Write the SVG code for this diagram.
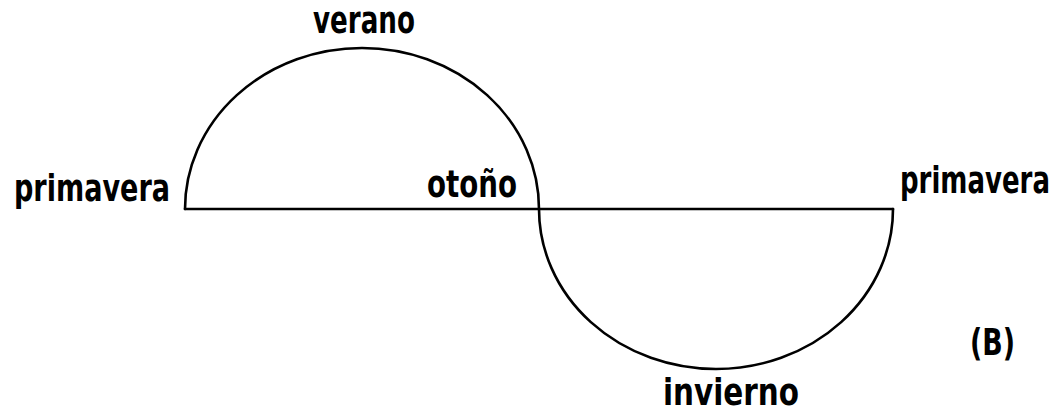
<svg xmlns="http://www.w3.org/2000/svg" width="1062" height="415" viewBox="0 0 1062 415">
<style>
.ln{fill:none;stroke:#000;stroke-width:2.6;stroke-linecap:round}
.t{font-family:"DejaVu Sans Condensed","Liberation Sans Narrow","Liberation Sans",sans-serif;font-size:27px;fill:#000;font-weight:bold}
</style>
<rect width="1062" height="415" fill="#fff"/>
<g id="connectors">
<line class="ln" x1="185" y1="209" x2="893" y2="209"/>
<path class="ln" d="M185,209 A177,161 0 0 1 539,209"/>
<path class="ln" d="M539,209 A177,160 0 0 0 893,209"/>
</g>
<g id="label-primavera-left" transform="translate(14,201) scale(1,1.37)"><text class="t" x="0" y="0" textLength="156" lengthAdjust="spacingAndGlyphs">primavera</text></g>
<g id="label-verano" transform="translate(313,33) scale(1,1.37)"><text class="t" x="0" y="0" textLength="102" lengthAdjust="spacingAndGlyphs">verano</text></g>
<g id="label-otono" transform="translate(427,197) scale(1,1.37)"><text class="t" x="0" y="0" textLength="90" lengthAdjust="spacingAndGlyphs">otoño</text></g>
<g id="label-primavera-right" transform="translate(900,193) scale(1,1.37)"><text class="t" x="0" y="0" textLength="150" lengthAdjust="spacingAndGlyphs">primavera</text></g>
<g id="label-invierno" transform="translate(663,405) scale(1,1.37)"><text class="t" x="0" y="0" textLength="136" lengthAdjust="spacingAndGlyphs">invierno</text></g>
<g id="label-B" transform="translate(970,355) scale(1,1.37)"><text class="t" x="0" y="0" textLength="45" lengthAdjust="spacingAndGlyphs">(B)</text></g>
</svg>
